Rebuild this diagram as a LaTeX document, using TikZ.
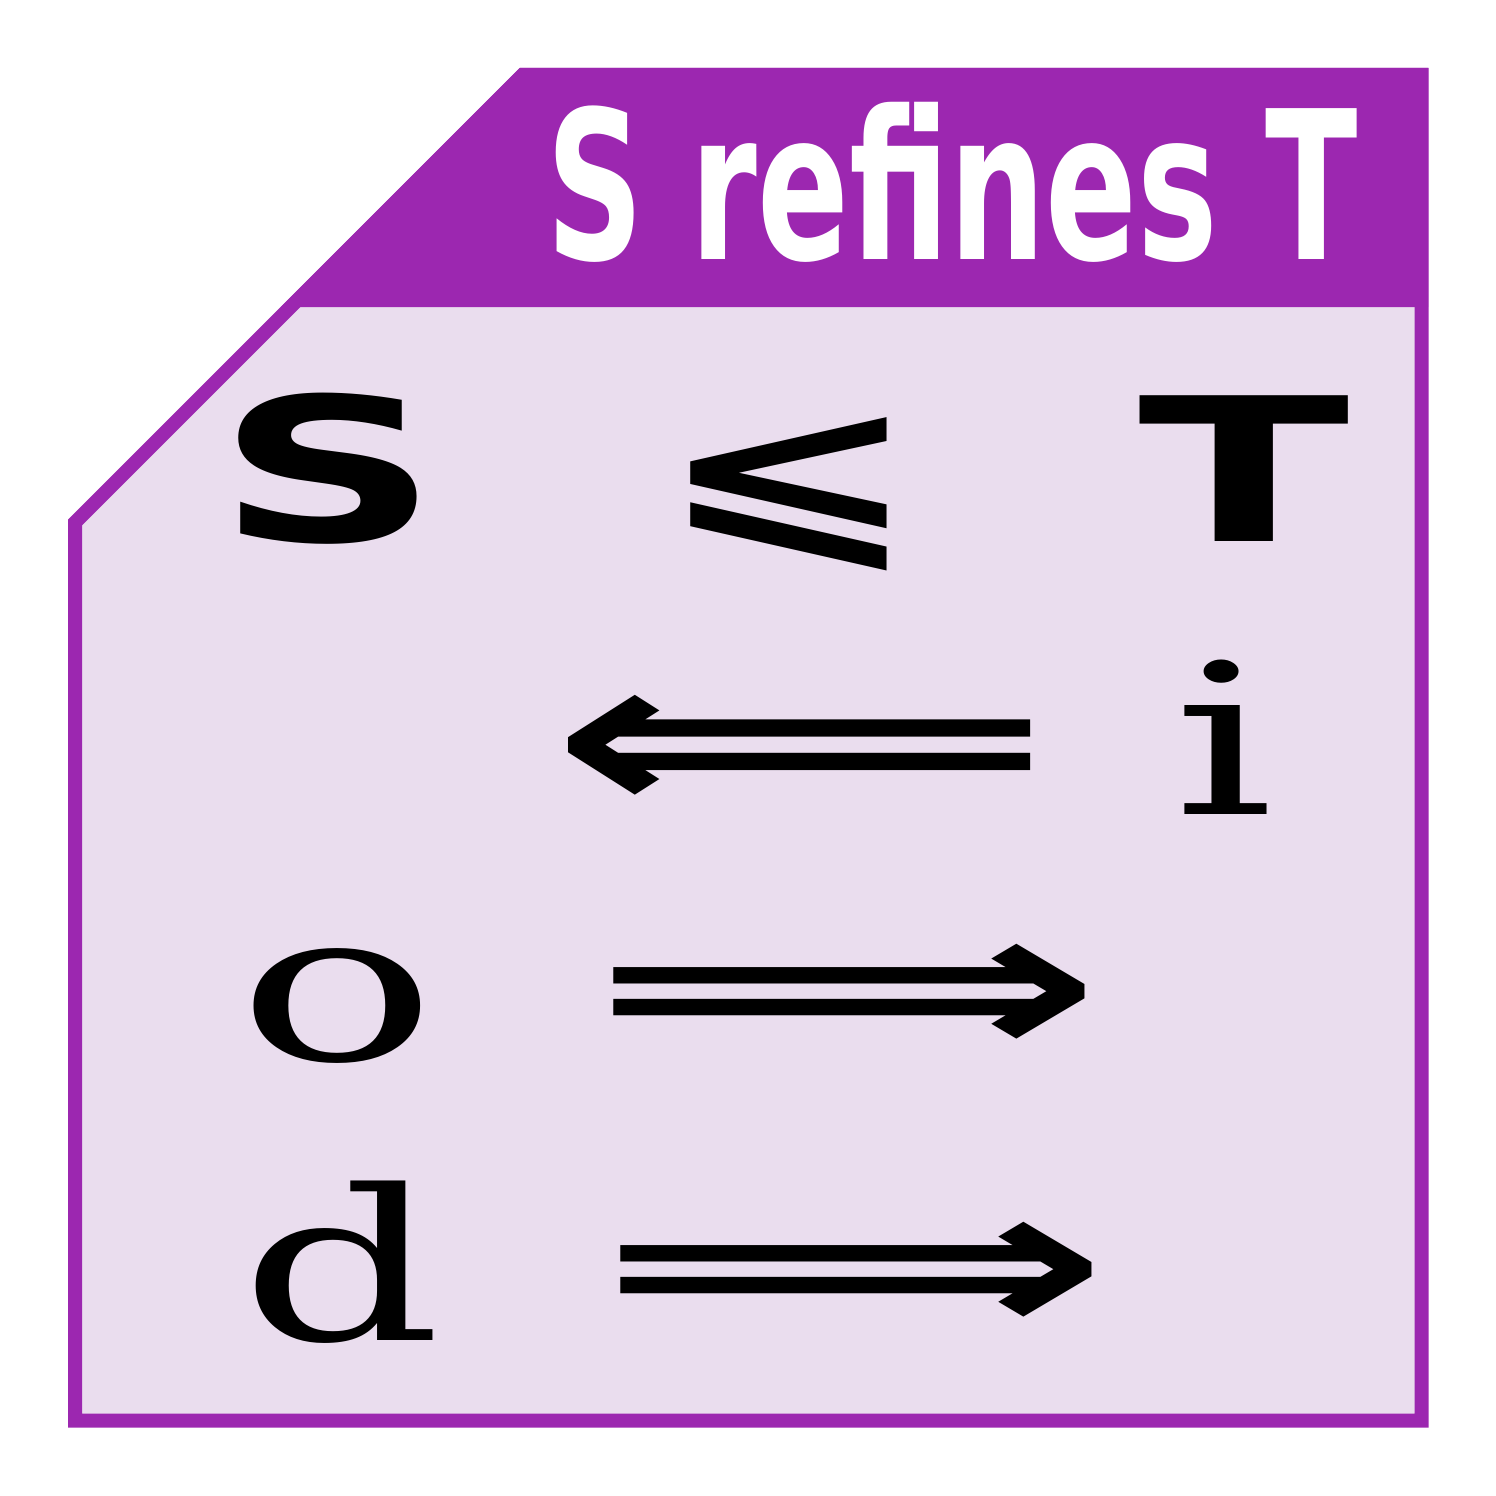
\documentclass[tikz,border=0pt]{standalone}
\usepackage{fontspec}
\usepackage{graphicx}
\newfontfamily\dvs{DejaVu Sans}
\newfontfamily\dvserif{DejaVu Serif}
\definecolor{purp}{HTML}{9C27B0}
\definecolor{lightp}{HTML}{EADDEE}
\tikzset{
  glyph/.style={inner sep=0pt, outer sep=0pt, anchor=base, text=black},
}
\begin{document}
\begin{tikzpicture}[x=1pt,y=-1pt]
\useasboundingbox (0,0) rectangle (1496,1496);
% body
\path[fill=lightp, draw=purp, line width=14pt, line join=miter]
  (75,522.5) -- (522.5,75) -- (1421.5,75) -- (1421.5,1420.5) -- (75,1420.5) -- cycle;
% header band
\fill[purp] (520,68) -- (1428,68) -- (1428,307) -- (281,307) -- cycle;
\node[glyph, text=white] (title) at (952,259)
  {\scalebox{0.654}[1]{\fontsize{207}{207}\selectfont\dvs\bfseries S refines T}};
% S <= T
\node[glyph] (S) at (328,541) {\scalebox{1.55}[1]{\fontsize{200}{200}\selectfont\dvs\bfseries S}};
\node[glyph] (leq) at (789,541) {\scalebox{1.6}[1]{\fontsize{196}{196}\selectfont\dvs\bfseries ⩽}};
\node[glyph] (T) at (1244,541) {\scalebox{1.55}[1]{\fontsize{200}{200}\selectfont\dvs\bfseries T}};
% rows
\node[glyph] (i) at (1224,814) {\scalebox{1.5}[1]{\fontsize{210}{210}\selectfont\dvserif i}};
\node[glyph] (la) at (801,814) {\scalebox{1.575}[1]{\fontsize{221}{221}\selectfont\dvs\bfseries ⟸}};
\node[glyph] (o) at (337.5,1060) {\scalebox{1.58}[1]{\fontsize{210}{210}\selectfont\dvserif o}};
\node[glyph] (ra1) at (848,1057.5) {\scalebox{1.69}[1]{\fontsize{210}{210}\selectfont\dvs\bfseries ⟹}};
\node[glyph] (d) at (341.5,1340) {\scalebox{1.5}[1]{\fontsize{210}{210}\selectfont\dvserif d}};
\node[glyph] (ra2) at (855,1335.5) {\scalebox{1.69}[1]{\fontsize{210}{210}\selectfont\dvs\bfseries ⟹}};
\end{tikzpicture}
\end{document}
